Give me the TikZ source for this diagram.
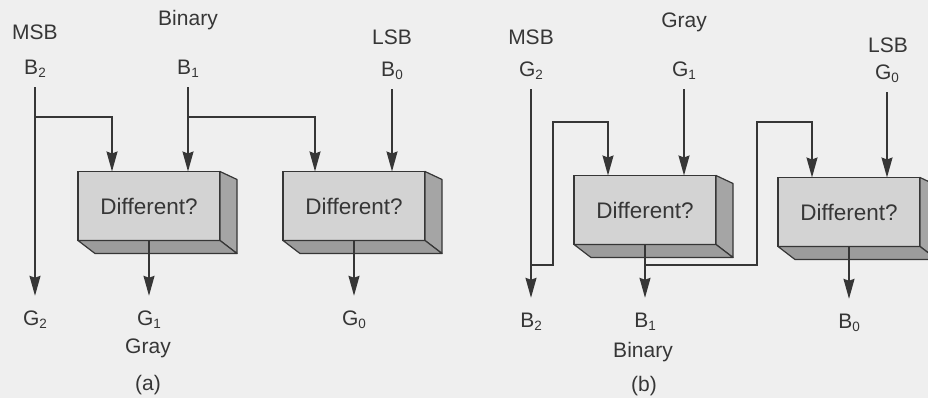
\documentclass[tikz,border=0pt]{standalone}
\usepackage{fontspec}
\setmainfont{Liberation Sans}
\usetikzlibrary{calc,arrows.meta}

\definecolor{paper}{HTML}{EFEFEF}
\definecolor{ink}{HTML}{363636}
\definecolor{frontgray}{HTML}{D3D3D3}
\definecolor{sidegray}{HTML}{A5A5A5}
\definecolor{basegray}{HTML}{9C9C9C}

% lowered small index, as in B_2
\newcommand\lowidx[1]{\raisebox{-3pt}{\fontsize{13.5}{13.5}\selectfont #1}}

% a 3-D "Different?" block: front face node plus right and bottom faces
\newcommand\gatebox[3]{%
  \node[frontface] (#1) at (#2,#3) {Different?};
  \filldraw[boxedge, fill=sidegray]
    (#1.north east) -- ++(17,8) -- ($(#1.south east)+(17,13)$) -- (#1.south east) -- cycle;
  \filldraw[boxedge, fill=basegray]
    (#1.south west) -- ++(17,13) -- ($(#1.south east)+(17,13)$) -- (#1.south east) -- cycle;
}

\tikzset{
  lbl/.style={font=\fontsize{21}{22}\selectfont, text=ink, anchor=base,
              inner xsep=0pt, inner ysep=0pt, text height=14pt, text depth=3pt},
  inlbl/.style={lbl, inner ysep=9pt},
  outlbl/.style={lbl, inner ysep=15pt},
  frontface/.style={draw=ink, line width=1.2pt, fill=frontgray, minimum width=142pt,
                    minimum height=69pt, inner sep=0pt, outer sep=0pt, text=ink,
                    font=\fontsize{22.5}{23}\selectfont},
  boxedge/.style={draw=ink, line width=1.2pt, line join=round},
  arr/.style={draw=ink, line width=1.6pt,
              -{Stealth[length=20pt, width=11pt, inset=2pt]}},
}

\begin{document}
\begin{tikzpicture}[x=1pt, y=-1pt]
  \fill[paper] (0,0) rectangle (928,398);
  \useasboundingbox (0,0) rectangle (928,398);

  % ---------------- (a) binary to Gray ----------------
  \node[lbl] (msbA) at (35,40) {MSB};
  \node[lbl] (binA) at (188,26) {Binary};
  \node[lbl] (lsbA) at (392,45) {LSB};
  \node[inlbl] (B2) at (35,75) {B\lowidx{2}};
  \node[inlbl] (B1) at (188,75) {B\lowidx{1}};
  \node[inlbl] (B0) at (392,77) {B\lowidx{0}};

  \gatebox{boxA1}{149}{206}
  \gatebox{boxA2}{354}{206}

  \node[outlbl] (G2) at (35,325) {G\lowidx{2}};
  \node[outlbl] (G1) at (149,325) {G\lowidx{1}};
  \node[outlbl] (G0) at (354,325) {G\lowidx{0}};
  \node[lbl] (grayA) at (148,353) {Gray};
  \node[lbl] (capA) at (148,390) {(a)};

  \coordinate (ja) at (112,117);
  \coordinate (jb) at (315,117);
  \draw[arr] (B2.south) -- (B2.south |- G2.north);
  \draw[arr] (B2.south |- ja) -| (boxA1.north -| ja);
  \draw[arr] (B1.south) -- (B1.south |- boxA1.north);
  \draw[arr] (B1.south |- jb) -| (boxA2.north -| jb);
  \draw[arr] (B0.south) -- (B0.south |- boxA2.north);
  \draw[arr] (boxA1.south) -- (boxA1.south |- G1.north);
  \draw[arr] (boxA2.south) -- (boxA2.south |- G0.north);

  % ---------------- (b) Gray to binary ----------------
  \node[lbl] (msbB) at (531,45) {MSB};
  \node[lbl] (grayB) at (684,28) {Gray};
  \node[lbl] (lsbB) at (888,53) {LSB};
  \node[inlbl] (G2t) at (531,77) {G\lowidx{2}};
  \node[inlbl] (G1t) at (684,77) {G\lowidx{1}};
  \node[inlbl] (G0t) at (887,80) {G\lowidx{0}};

  \gatebox{boxB1}{645}{210}
  \gatebox{boxB2}{849}{212}

  \node[outlbl] (B2b) at (531,327) {B\lowidx{2}};
  \node[outlbl] (B1b) at (645,327) {B\lowidx{1}};
  \node[outlbl] (B0b) at (849,328) {B\lowidx{0}};
  \node[lbl] (binB) at (643,357) {Binary};
  \node[lbl] (capB) at (644,391) {(b)};

  \coordinate (kb1) at (553,265);
  \coordinate (kt1) at (608,122);
  \coordinate (kb2) at (757,265);
  \coordinate (kt2) at (812,122);
  \draw[arr] (G2t.south) -- (G2t.south |- B2b.north);
  \draw[arr] (G2t.south |- kb1) -- (kb1) |- (kt1) -- (kt1 |- boxB1.north);
  \draw[arr] (G1t.south) -- (G1t.south |- boxB1.north);
  \draw[arr] (boxB1.south) -- (boxB1.south |- B1b.north);
  \draw[arr] (boxB1.south |- kb2) -- (kb2) |- (kt2) -- (kt2 |- boxB2.north);
  \draw[arr] (G0t.south) -- (G0t.south |- boxB2.north);
  \draw[arr] (boxB2.south) -- (boxB2.south |- B0b.north);
\end{tikzpicture}
\end{document}
